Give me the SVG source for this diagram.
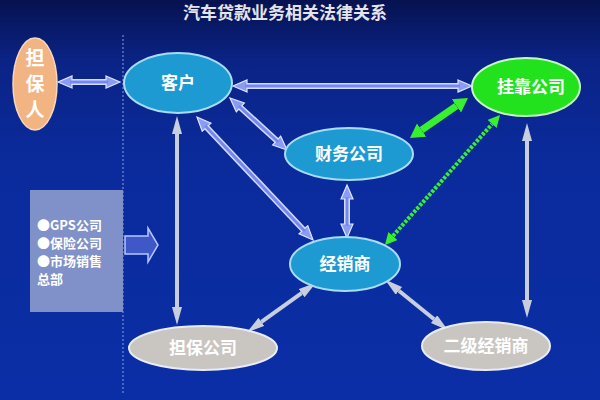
<svg xmlns="http://www.w3.org/2000/svg" width="600" height="400" viewBox="0 0 600 400">
<defs>
<linearGradient id="bg" x1="0" y1="0" x2="0" y2="1">
<stop offset="0" stop-color="#061250"/>
<stop offset="0.15" stop-color="#0a2385"/>
<stop offset="0.4" stop-color="#0b2b9c"/>
<stop offset="1" stop-color="#0a2ea6"/>
</linearGradient>
<marker id="hb" markerUnits="userSpaceOnUse" markerWidth="18" markerHeight="16" refX="1" refY="7" orient="auto-start-reverse" viewBox="0 0 18 16">
<path d="M1,1 L15,7 L1,13 z" fill="#8a9cf4" stroke="#dde4ff" stroke-width="1.2"/>
</marker>
<marker id="hg" markerUnits="userSpaceOnUse" markerWidth="18" markerHeight="18" refX="0" refY="8" orient="auto-start-reverse" viewBox="0 0 18 18">
<path d="M0,0 L14,8 L0,16 z" fill="#38f030"/>
</marker>
<marker id="hg2" markerUnits="userSpaceOnUse" markerWidth="14" markerHeight="14" refX="0" refY="6" orient="auto-start-reverse" viewBox="0 0 14 14">
<path d="M0,0 L12,6 L0,12 z" fill="#38f030"/>
</marker>
<marker id="hw" markerUnits="userSpaceOnUse" markerWidth="20" markerHeight="12" refX="0" refY="5" orient="auto-start-reverse" viewBox="0 0 20 12">
<path d="M0,0 L18,5 L0,10 z" fill="#c8cede"/>
</marker>
<style>
.t{font-family:"Noto Sans CJK SC","Liberation Sans",sans-serif;fill:#ffffff;font-weight:bold;text-anchor:middle;}
.blue{fill:#1e9ad2;stroke:#a8dcf4;stroke-width:2;}
.gray{fill:#c9c5c1;stroke:#e8ecf8;stroke-width:2;}
.ab{stroke:#d4dcff;stroke-width:6;marker-start:url(#hb);marker-end:url(#hb);}
.abi{stroke:#7488ee;stroke-width:3;}
.ag{stroke:#38f030;stroke-width:7;marker-start:url(#hg);marker-end:url(#hg);}
.agd{stroke:#38f030;stroke-width:4;stroke-dasharray:3 1.5;marker-start:url(#hg2);marker-end:url(#hg2);}
.aw{stroke:#c8cede;stroke-width:4;marker-start:url(#hw);marker-end:url(#hw);}
</style>
</defs>
<rect x="0" y="0" width="600" height="400" fill="url(#bg)"/>
<text x="285" y="19" class="t" style="font-size:17px;fill:#e4e4ea">汽车贷款业务相关法律关系</text>
<line x1="123" y1="35" x2="123" y2="395" stroke="#8aa0e0" stroke-width="1" stroke-dasharray="2 2"/>

<g id="connectors">
<line class="ab" x1="72" y1="82" x2="106" y2="82"/>
<line class="abi" x1="70" y1="82" x2="108" y2="82"/>
<line class="ab" x1="247" y1="86" x2="458" y2="86"/>
<line class="abi" x1="245" y1="86" x2="460" y2="86"/>
<line class="ab" x1="240.3" y1="107.4" x2="276.7" y2="140.6"/>
<line class="abi" x1="238.8" y1="106" x2="278.2" y2="142"/>
<line class="ab" x1="206.6" y1="127.2" x2="303.4" y2="229.8"/>
<line class="abi" x1="205.2" y1="125.7" x2="304.8" y2="231.3"/>
<line class="ab" x1="347" y1="199" x2="347" y2="224"/>
<line class="abi" x1="347" y1="197" x2="347" y2="226"/>
<line class="ag" x1="421.5" y1="130.1" x2="456.5" y2="105.9"/>
<line class="agd" x1="392.9" y1="236" x2="492.1" y2="124"/>
<line class="aw" x1="177" y1="134" x2="177" y2="307"/>
<line class="aw" x1="527" y1="141" x2="527" y2="300"/>
<line class="aw" x1="301.6" y1="293.1" x2="261.4" y2="321.9"/>
<line class="aw" x1="398.9" y1="290.8" x2="434.1" y2="319.2"/>
<polygon points="125,236 148,236 148,228 158,245 148,262 148,254 125,254" fill="#3f58c8" stroke="#b8c6ff" stroke-width="1.5"/>
</g>

<g id="guarantor">
<ellipse cx="35" cy="84" rx="22" ry="46" fill="#f2b482" stroke="#f8d8b8" stroke-width="1.5"/>
<text x="35" y="65" class="t" style="font-size:19px">担</text>
<text x="35" y="91" class="t" style="font-size:19px">保</text>
<text x="35" y="117" class="t" style="font-size:19px">人</text>
</g>

<g id="customer">
<ellipse cx="178" cy="83" rx="54" ry="30" class="blue"/>
<text x="178" y="89" class="t" style="font-size:17px">客户</text>
</g>

<g id="affiliate">
<ellipse cx="526" cy="87" rx="54" ry="29" fill="#22e21e" stroke="#c8f8c0" stroke-width="2"/>
<text x="531" y="93" class="t" style="font-size:17px">挂靠公司</text>
</g>

<g id="finance">
<ellipse cx="349" cy="154" rx="64" ry="26" class="blue"/>
<text x="349" y="160" class="t" style="font-size:17px">财务公司</text>
</g>

<g id="dealer">
<ellipse cx="345" cy="264" rx="55" ry="27" class="blue"/>
<text x="345" y="270" class="t" style="font-size:17px">经销商</text>
</g>

<g id="guarantee-co">
<ellipse cx="203" cy="348" rx="74" ry="22" class="gray"/>
<text x="203" y="354" class="t" style="font-size:17px">担保公司</text>
</g>

<g id="sub-dealer">
<ellipse cx="486" cy="346" rx="64" ry="24" class="gray"/>
<text x="486" y="352" class="t" style="font-size:17px">二级经销商</text>
</g>

<g id="others">
<rect x="30" y="190" width="93" height="122" fill="#8090c8"/>
<text x="37" y="230" class="t" style="font-size:13px;text-anchor:start">●GPS公司</text>
<text x="37" y="248" class="t" style="font-size:13px;text-anchor:start">●保险公司</text>
<text x="37" y="266" class="t" style="font-size:13px;text-anchor:start">●市场销售</text>
<text x="37" y="284" class="t" style="font-size:13px;text-anchor:start">总部</text>
</g>
</svg>
